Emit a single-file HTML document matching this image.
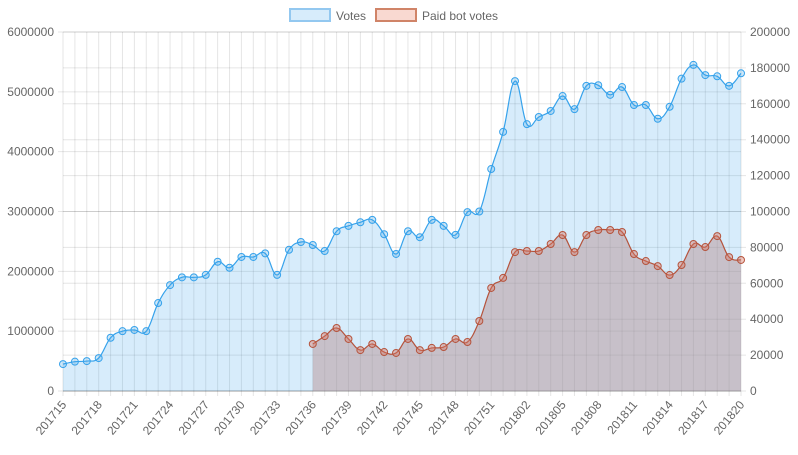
<!DOCTYPE html>
<html><head><meta charset="utf-8"><style>
body{margin:0;background:#fff;font-family:"Liberation Sans",sans-serif}
svg text{font-family:"Liberation Sans",sans-serif;font-size:12px;fill:#666}
</style></head><body>
<svg id="c" width="798" height="450"></svg>
<script>
const votes=[0.45,0.49,0.50,0.55,0.89,1.0,1.02,1.0,1.47,1.77,1.9,1.9,1.94,2.16,2.06,2.24,2.24,2.3,1.94,2.36,2.49,2.44,2.34,2.67,2.76,2.82,2.86,2.62,2.29,2.67,2.57,2.86,2.76,2.61,2.99,3.0,3.71,4.33,5.18,4.46,4.58,4.68,4.93,4.71,5.1,5.11,4.95,5.08,4.78,4.78,4.55,4.75,5.22,5.45,5.28,5.26,5.1,5.31].map(v=>v*1e6);
const botStart=21;
const botVotes=[26200,30600,35100,29000,22800,26200,21700,21200,29000,22800,24000,24500,29000,27300,39000,57400,63000,77400,78000,78000,81900,86900,77400,86900,89700,89700,88600,76300,72400,69600,64600,70200,81900,80200,86300,74600,73000];
const leftTicks=[0,1000000,2000000,3000000,4000000,5000000,6000000];
const rightTicks=[0,20000,40000,60000,80000,100000,120000,140000,160000,180000,200000];
const cats=[];for(let w=15;w<=52;w++)cats.push('2017'+w);for(let w=1;w<=20;w++)cats.push('2018'+String(w).padStart(2,'0'));
const L=63,R=741,T=32,B=391;
const x=i=>L+(R-L)*i/(cats.length-1);
const yl=v=>B-(B-T)*v/6000000;
const yr=v=>B-(B-T)*v/200000;
const svg=document.getElementById('c');const NS='http://www.w3.org/2000/svg';
function mk(t,a,p){const e=document.createElementNS(NS,t);for(const k in a)e.setAttribute(k,a[k]);(p||svg).appendChild(e);return e;}
const grid=mk('g',{});
leftTicks.forEach(t=>{mk('line',{x1:L-5,x2:R,y1:yl(t),y2:yl(t),stroke:'rgba(0,0,0,0.1)'},grid);
 const tx=mk('text',{x:L-9,y:yl(t)+4,'text-anchor':'end'});tx.textContent=t;});
rightTicks.forEach(t=>{mk('line',{x1:L,x2:R+5,y1:yr(t),y2:yr(t),stroke:'rgba(0,0,0,0.1)'},grid);
 const tx=mk('text',{x:R+9,y:yr(t)+4});tx.textContent=t;});
cats.forEach((c,i)=>{mk('line',{x1:x(i),x2:x(i),y1:T,y2:B+5,stroke:'rgba(0,0,0,0.1)'},grid);
 if(i%3===0){const tx=mk('text',{x:x(i)+4,y:B+14,'text-anchor':'end',transform:`rotate(-50 ${x(i)+4} ${B+14})`});tx.textContent=c;}});
mk('line',{x1:L,x2:R,y1:B,y2:B,stroke:'rgba(0,0,0,0.25)'});
function pathD(pts){let d=`M${pts[0][0]},${pts[0][1]}`;const t=0.4;
 for(let i=0;i<pts.length-1;i++){const p0=pts[i-1]||pts[i],p1=pts[i],p2=pts[i+1],p3=pts[i+2]||p2;
  const c1=[p1[0]+(p2[0]-p0[0])*t/2,p1[1]+(p2[1]-p0[1])*t/2],c2=[p2[0]-(p3[0]-p1[0])*t/2,p2[1]-(p3[1]-p1[1])*t/2];
  d+=` C${c1[0]},${c1[1]} ${c2[0]},${c2[1]} ${p2[0]},${p2[1]}`;}return d;}
function series(pts,fill,stroke,ptFill,name){const g=mk('g',{});
 const d=pathD(pts);
 const a=mk('path',{d:d+` L${pts[pts.length-1][0]},${B} L${pts[0][0]},${B} Z`,fill:fill},g);
 const l=mk('path',{d:d,fill:'none',stroke:stroke,'stroke-width':1.2},g);
 pts.forEach(p=>{const c=mk('circle',{cx:p[0],cy:p[1],r:3.5,fill:ptFill,stroke:stroke,'stroke-width':1},g);});}
series(votes.map((v,i)=>[x(i),yl(v)]),'rgba(54,162,235,0.2)','#36a2eb','rgba(54,162,235,0.25)','votes-series');
series(botVotes.map((v,i)=>[x(i+botStart),yr(v)]),'rgba(180,140,140,0.45)','#b5533c','rgba(220,120,100,0.4)','paid-bot-votes-series');
const lg=mk('g',{});
const e1=mk('g',{},lg);
mk('rect',{x:290,y:9,width:40,height:12,fill:'rgba(54,162,235,0.2)',stroke:'#93c8f0','stroke-width':2},e1);
let t1=mk('text',{x:336,y:20},e1);t1.textContent='Votes';
const e2=mk('g',{},lg);
mk('rect',{x:376,y:9,width:40,height:12,fill:'rgba(240,160,140,0.4)',stroke:'#d08468','stroke-width':2},e2);
let t2=mk('text',{x:422,y:20},e2);t2.textContent='Paid bot votes';
</script></body></html>
